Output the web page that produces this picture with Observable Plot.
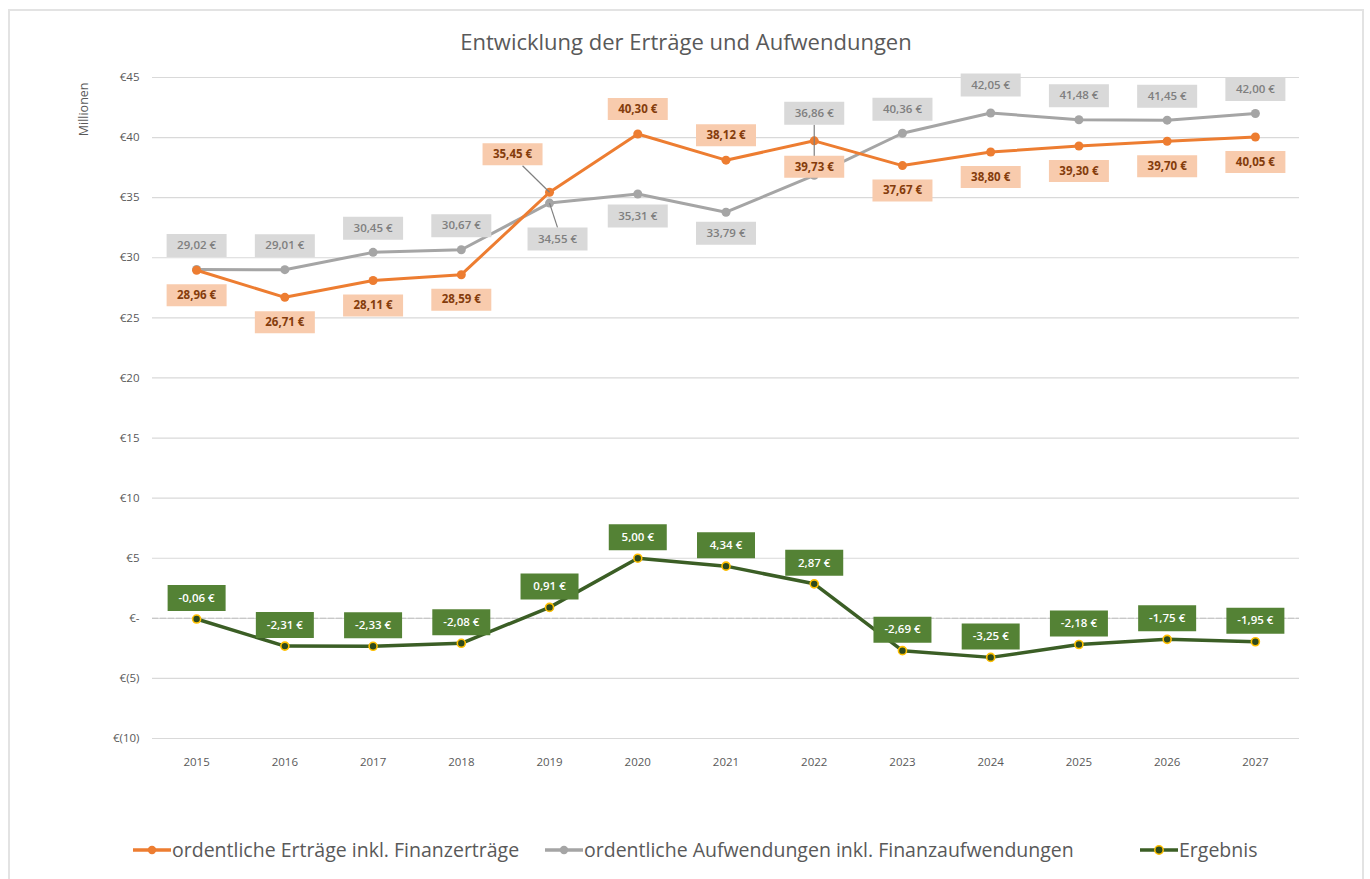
<!DOCTYPE html>
<html>
<head>
<meta charset="utf-8">
<script src="https://cdn.jsdelivr.net/npm/d3@7"></script>
<script src="https://cdn.jsdelivr.net/npm/@observablehq/plot@0.6"></script>
<style>
  html, body { margin: 0; padding: 0; background: #fff; overflow: hidden; width: 1370px; height: 879px; }
  body { position: relative; font-family: "Open Sans", "Liberation Sans", sans-serif; }
  #frame { position: absolute; left: 8px; top: 9px; width: 1356px; height: 880px; border: 2px solid #e3e3e3; box-sizing: border-box; pointer-events: none; z-index: 5; }
  #title { position: absolute; left: 0; width: 1372px; top: 26px; text-align: center; font-size: 22px; color: #595959; }
  #chart { position: absolute; left: 0; top: 60px; }
  .leg { position: absolute; top: 836px; display: flex; align-items: center; font-size: 19.5px; color: #595959; white-space: nowrap; }
  .leg svg { margin-right: 1px; }
</style>
</head>
<body>
<div id="frame"></div>
<div id="title">Entwicklung der Erträge und Aufwendungen</div>
<div id="chart"></div>
<div id="legend"></div>
<script>
// ---- data ----
const years = [2015, 2016, 2017, 2018, 2019, 2020, 2021, 2022, 2023, 2024, 2025, 2026, 2027];
const ertraege = [28.96, 26.71, 28.11, 28.59, 35.45, 40.30, 38.12, 39.73, 37.67, 38.80, 39.30, 39.70, 40.05];
const aufwendungen = [29.02, 29.01, 30.45, 30.67, 34.55, 35.31, 33.79, 36.86, 40.36, 42.05, 41.48, 41.45, 42.00];
const ergebnis = [-0.06, -2.31, -2.33, -2.08, 0.91, 5.00, 4.34, 2.87, -2.69, -3.25, -2.18, -1.75, -1.95];
const seriesNames = ["ordentliche Erträge inkl. Finanzerträge", "ordentliche Aufwendungen inkl. Finanzaufwendungen", "Ergebnis"];
const yTicks = [45, 40, 35, 30, 25, 20, 15, 10, 5, 0, -5, -10];
const yAxisTitle = "Millionen";

// ---- layout ----
const W = 1370, H = 720, mL = 152, mR = 71, mT = 17, mB = 42;
const xDomain = [2014.5, 2027.5], yDomain = [-10, 45];
const pxPerX = (W - mL - mR) / (xDomain[1] - xDomain[0]);
const pxPerY = (H - mT - mB) / (yDomain[1] - yDomain[0]);
const fmt = v => v.toFixed(2).replace(".", ",") + " €";
const yFmt = d => d === 0 ? "€-" : d < 0 ? `€(${-d})` : `€${d}`;

const C = {
  orange: "#ED7D31", orangeBox: "#F8CBAD", orangeText: "#843C0C",
  grey: "#A5A5A5", greyBox: "#D9D9D9", greyText: "#7F7F7F",
  green: "#3B5E25", greenBox: "#548235", yellow: "#FFC000"
};

// label placement (pixel offsets), chosen away from the other series, with a few manual tweaks
const tweaks = {
  "A2019": {dx: 8, dy: 36, lead: true},
  "A2020": {dy: 22},
  "A2021": {dy: 21},
  "A2022": {dy: -62, lead: true},
  "A2024": {dy: -28},
  "E2019": {dx: -37, dy: -38, lead: true},
  "E2022": {dy: 26}
};

const rows = [];
const labels = [];
years.forEach((yr, i) => {
  rows.push({year: yr, value: ertraege[i], s: "E"});
  rows.push({year: yr, value: aufwendungen[i], s: "A"});
  rows.push({year: yr, value: ergebnis[i], s: "R"});
  const aboveA = aufwendungen[i] >= ertraege[i];
  const defs = {
    A: {dx: 0, dy: aboveA ? -24 : 24},
    E: {dx: 0, dy: aboveA ? 25 : -25},
    R: {dx: 0, dy: -21}
  };
  for (const [s, v] of [["E", ertraege[i]], ["A", aufwendungen[i]], ["R", ergebnis[i]]]) {
    const t = Object.assign({}, defs[s], tweaks[s + yr] || {});
    labels.push({
      s, year: yr, value: v, text: fmt(v),
      lx: yr + (t.dx || 0) / pxPerX,
      ly: v - t.dy / pxPerY,
      lead: !!t.lead, dxPx: t.dx || 0, dyPx: t.dy
    });
  }
});

// leader lines from point to box edge
const leads = labels.filter(d => d.lead).map(d => {
  const halfH = 11.5;
  let ex = d.dxPx;
  if (Math.abs(d.dxPx) > 20) ex = d.dxPx + 10;
  const ey = d.dyPx + (d.dyPx > 0 ? -halfH : halfH);
  return {x1: d.year, y1: d.value, x2: d.year + ex / pxPerX, y2: d.value - ey / pxPerY};
});

const box = (w, h) => ({draw(ctx) { ctx.rect(-w / 2, -h / 2, w, h); }});

const byS = s => rows.filter(d => d.s === s);
const labS = s => labels.filter(d => d.s === s);

const plot = Plot.plot({
  width: W, height: H,
  marginLeft: mL, marginRight: mR, marginTop: mT, marginBottom: mB,
  style: {background: "transparent", fontFamily: "'Open Sans', 'Liberation Sans', sans-serif", fontSize: "11px", color: "#595959"},
  x: {domain: xDomain, label: null},
  y: {domain: yDomain, label: null},
  marks: [
    Plot.gridY(yTicks, {stroke: "#d9d9d9", strokeOpacity: 1, strokeWidth: 1.2}),
    Plot.ruleY([0], {stroke: "#c8c8c8", strokeWidth: 1.2, strokeDasharray: "6,2"}),
    Plot.axisX({ticks: years, tickFormat: d => String(d), tickSize: 0, tickPadding: 19, fill: "#595959", fontSize: 11.5}),
    Plot.axisY({ticks: yTicks, tickFormat: yFmt, tickSize: 0, tickPadding: 13, fill: "#595959", fontSize: 11.5}),
    Plot.text([yAxisTitle], {frameAnchor: "top-left", text: d => d, rotate: -90, textAnchor: "end", lineAnchor: "middle", dx: -69, dy: 5, fontSize: 12.5, fill: "#595959", style: "letter-spacing:0.6px"}),
    Plot.line(byS("A"), {x: "year", y: "value", stroke: C.grey, strokeWidth: 3}),
    Plot.dot(byS("A"), {x: "year", y: "value", r: 4.5, fill: C.grey, stroke: "none"}),
    Plot.line(byS("E"), {x: "year", y: "value", stroke: C.orange, strokeWidth: 3}),
    Plot.dot(byS("E"), {x: "year", y: "value", r: 4.5, fill: C.orange, stroke: "none"}),
    Plot.line(byS("R"), {x: "year", y: "value", stroke: C.green, strokeWidth: 3.5}),
    Plot.dot(byS("R"), {x: "year", y: "value", r: 4, fill: "#2E4A1C", stroke: C.yellow, strokeWidth: 1.6}),
    Plot.link(leads, {x1: "x1", y1: "y1", x2: "x2", y2: "y2", stroke: "#7f7f7f", strokeWidth: 1.2}),
    Plot.dot(labS("A"), {x: "lx", y: "ly", symbol: box(60, 23), r: 1, fill: C.greyBox, stroke: "none"}),
    Plot.dot(labS("E"), {x: "lx", y: "ly", symbol: box(60, 22), r: 1, fill: C.orangeBox, stroke: "none"}),
    Plot.dot(labS("R"), {x: "lx", y: "ly", symbol: box(58, 26), r: 1, fill: C.greenBox, stroke: "none"}),
    Plot.text(labS("A"), {x: "lx", y: "ly", text: "text", fill: C.greyText, fontSize: 11.5, fontWeight: 600}),
    Plot.text(labS("E"), {x: "lx", y: "ly", text: "text", fill: C.orangeText, fontSize: 11.5, fontWeight: 700}),
    Plot.text(labS("R"), {x: "lx", y: "ly", text: "text", fill: "#ffffff", fontSize: 11.5, fontWeight: 600})
  ]
});
document.getElementById("chart").appendChild(plot);

// ---- legend ----
const legendItems = [
  {name: seriesNames[0], line: C.orange, dot: C.orange, ring: "none", left: 133},
  {name: seriesNames[1], line: C.grey, dot: C.grey, ring: "none", left: 545},
  {name: seriesNames[2], line: C.green, dot: "#2E4A1C", ring: C.yellow, left: 1140}
];
const legend = d3.select("#legend");
legendItems.forEach(it => {
  const item = legend.append("div").attr("class", "leg").style("left", it.left + "px");
  const s = item.append("svg").attr("width", 38).attr("height", 14);
  s.append("line").attr("x1", 0).attr("x2", 38).attr("y1", 7).attr("y2", 7).attr("stroke", it.line).attr("stroke-width", 3.5);
  s.append("circle").attr("cx", 19).attr("cy", 7).attr("r", 4.2).attr("fill", it.dot).attr("stroke", it.ring).attr("stroke-width", 1.5);
  item.append("span").text(it.name);
});
</script>
</body>
</html>
